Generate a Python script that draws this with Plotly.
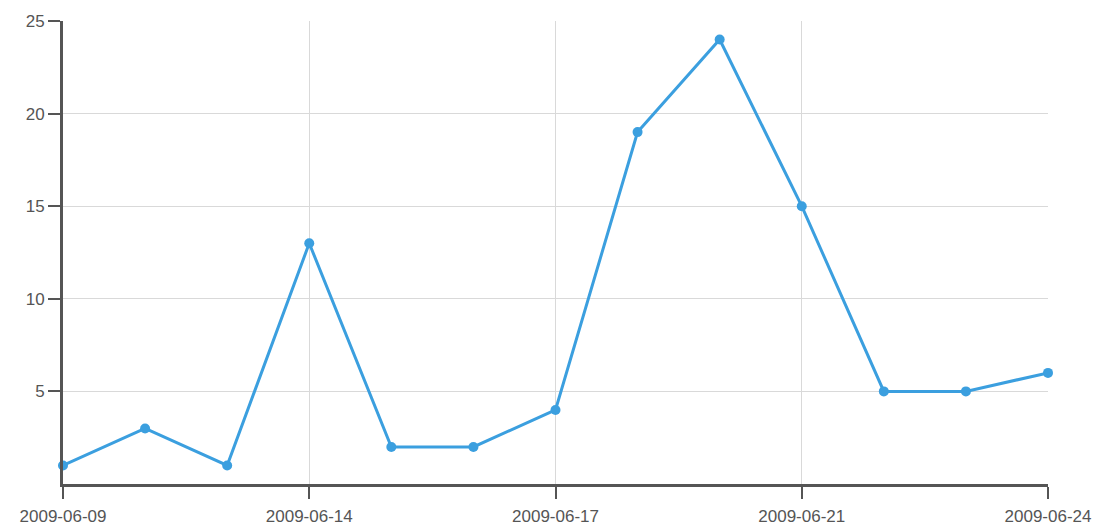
import plotly.graph_objects as go

dates = ["2009-06-09", "2009-06-10", "2009-06-12", "2009-06-14", "2009-06-15",
         "2009-06-16", "2009-06-17", "2009-06-18", "2009-06-20", "2009-06-21",
         "2009-06-22", "2009-06-23", "2009-06-24"]
values = [1, 3, 1, 13, 2, 2, 4, 19, 24, 15, 5, 5, 6]
x_tick_labels = ["2009-06-09", "2009-06-14", "2009-06-17", "2009-06-21", "2009-06-24"]
y_ticks = [5, 10, 15, 20, 25]

fig = go.Figure()
fig.add_trace(go.Scatter(
    x=dates, y=values, mode="lines+markers",
    line=dict(color="#3b9fdf", width=3),
    marker=dict(color="#3b9fdf", size=10),
    cliponaxis=False, showlegend=False,
))

fig.update_layout(
    width=1104, height=528,
    margin=dict(l=63, r=56, t=21, b=44),
    plot_bgcolor="white", paper_bgcolor="white",
    font=dict(family="Liberation Sans, Arial, sans-serif", size=17, color="#555"),
)
fig.update_xaxes(
    type="category", range=[0, len(dates) - 1], automargin=False,
    tickmode="array", tickvals=x_tick_labels, ticktext=x_tick_labels,
    showgrid=True, gridcolor="#d9d9d9", gridwidth=1,
    showline=True, linecolor="#555", linewidth=3,
    ticks="outside", ticklen=12, tickwidth=2, tickcolor="#555",
    ticklabelstandoff=3,
    zeroline=False,
)
fig.update_yaxes(
    range=[0, 25], tickmode="array", tickvals=y_ticks, automargin=False,
    showgrid=True, gridcolor="#d9d9d9", gridwidth=1,
    showline=True, linecolor="#555", linewidth=3,
    ticks="outside", ticklen=12, tickwidth=2, tickcolor="#555",
    zeroline=False,
)

fig.write_html(
    "out.html",
    config={"displayModeBar": False},
    post_script="document.body.style.margin='0';document.body.style.overflow='hidden';",
)
